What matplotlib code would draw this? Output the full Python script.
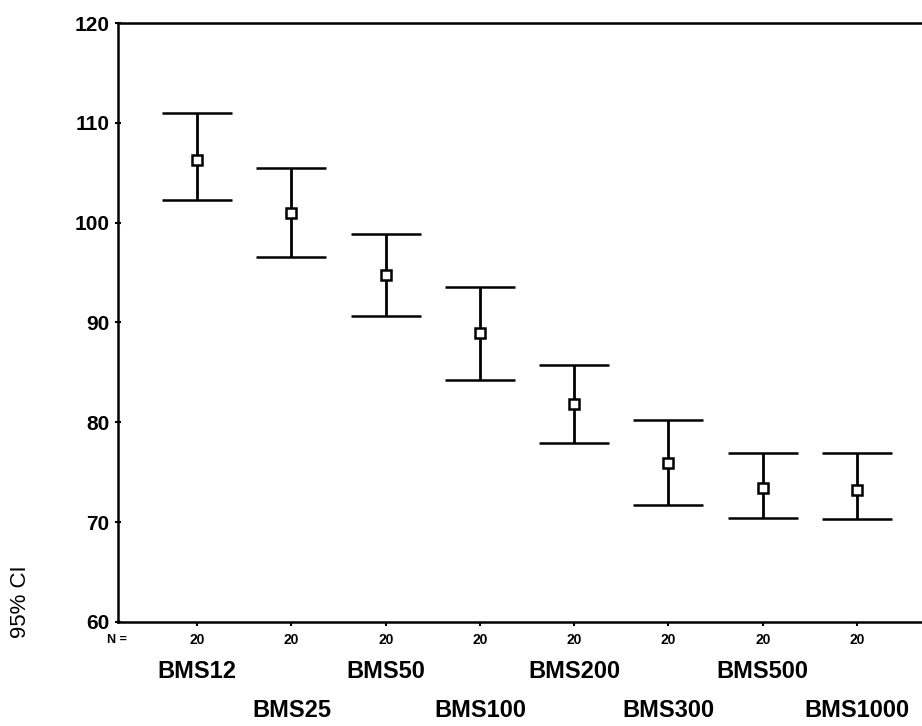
import matplotlib.pyplot as plt
from matplotlib.transforms import blended_transform_factory

plt.rcParams['font.family'] = ['Liberation Sans', 'DejaVu Sans']

# data
groups = ['BMS12', 'BMS25', 'BMS50', 'BMS100', 'BMS200', 'BMS300', 'BMS500', 'BMS1000']
n_vals = [20, 20, 20, 20, 20, 20, 20, 20]
means = [106.3, 101.0, 94.8, 88.9, 81.8, 75.9, 73.4, 73.2]
upper = [111.0, 105.5, 98.9, 93.6, 85.7, 80.2, 76.9, 76.9]
lower = [102.3, 96.6, 90.7, 84.2, 77.9, 71.7, 70.4, 70.3]
yticks = [60, 70, 80, 90, 100, 110, 120]

x = list(range(1, len(groups) + 1))
err_lo = [m - l for m, l in zip(means, lower)]
err_hi = [u - m for u, m in zip(upper, means)]

fig = plt.figure(figsize=(9.22, 7.26), dpi=100)
ax = fig.add_axes([0.128, 0.1433, 0.872, 0.825])

ax.errorbar(x, means, yerr=[err_lo, err_hi], fmt='s', color='black',
            mfc='white', mec='black', ms=6.5, mew=1.8,
            elinewidth=2, capsize=25.5, capthick=2.4)

ax.set_xlim(0.16, 8.69)
ax.set_ylim(60, 120)
ax.set_yticks(yticks)
ax.set_yticklabels([str(t) for t in yticks], fontsize=15, fontweight='bold')
ax.set_xticks(x)
ax.set_xticklabels([str(n) for n in n_vals], fontsize=10, fontweight='bold')
ax.tick_params(axis='y', direction='inout', length=4, width=1.5, pad=4)
ax.tick_params(axis='x', direction='out', length=3, width=1.5, pad=5)

ax.spines['right'].set_visible(False)
for s in ['left', 'top', 'bottom']:
    ax.spines[s].set_linewidth(1.8)

trans = blended_transform_factory(ax.transData, ax.transAxes)
for i, name in enumerate(groups):
    off = -50 if i % 2 == 0 else -89
    ax.annotate(name, xy=(x[i], 0), xycoords=trans, xytext=(0, off),
                textcoords='offset pixels', ha='center', va='center',
                fontsize=17, fontweight='bold')

ax.annotate('N =', xy=(0, 0), xycoords='axes fraction', xytext=(-1, -18),
            textcoords='offset pixels', ha='center', va='center',
            fontsize=9, fontweight='bold')

fig.text(20 / 922, 1 - 602 / 726, '95% CI', rotation=90, ha='center',
         va='center', fontsize=16)

fig.savefig('out.png', dpi=100)
